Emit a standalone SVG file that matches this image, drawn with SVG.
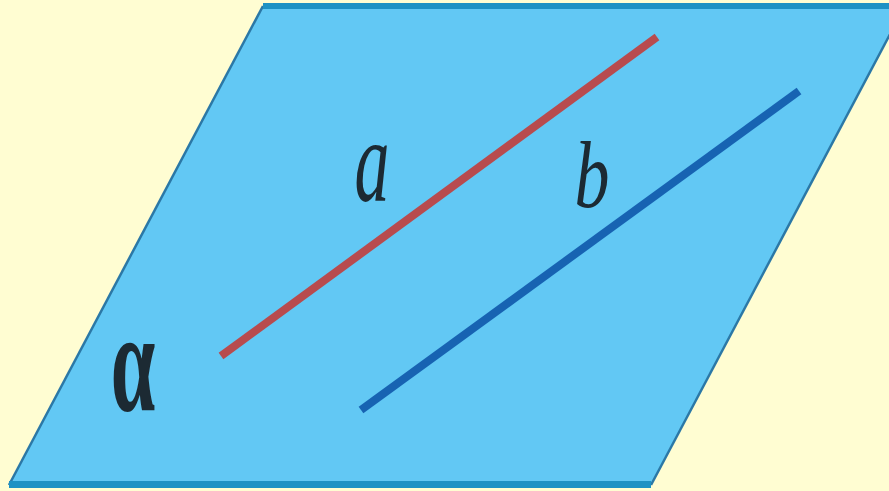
<svg xmlns="http://www.w3.org/2000/svg" width="889" height="491" viewBox="0 0 889 491">
  <style>
    .lbl { font-family: "Liberation Serif", "DejaVu Serif", serif; fill: #1c2a33; }
    .line { stroke-width: 8; stroke-linecap: butt; }
  </style>
  <rect x="0" y="0" width="889" height="491" fill="#FFFDD2"/>
  <g id="plane">
    <polygon points="263,6 905,6 651,485 9,485" fill="#62C8F4"/>
    <line x1="263" y1="6" x2="9" y2="485" stroke="#2B78A6" stroke-width="2.5"/>
    <line x1="905" y1="6" x2="651" y2="485" stroke="#2B78A6" stroke-width="2.5"/>
    <line x1="263" y1="6" x2="889" y2="6" stroke="#1E92C4" stroke-width="6"/>
    <line x1="9" y1="484.5" x2="651" y2="484.5" stroke="#1E92C4" stroke-width="7"/>
  </g>
  <g id="lines">
    <line id="line-a" class="line" x1="221" y1="356" x2="657" y2="37" stroke="#B84B4E"/>
    <line id="line-b" class="line" x1="361" y1="410" x2="799" y2="91" stroke="#1763B2"/>
  </g>
  <g id="label-a">
    <text class="lbl" font-style="italic" font-size="70" text-anchor="middle" transform="translate(372,201) scale(1,1.7)">a</text>
  </g>
  <g id="label-b">
    <text class="lbl" font-style="italic" font-size="70" text-anchor="middle" transform="translate(592,207) scale(1,1.35)">b</text>
  </g>
  <g id="label-alpha">
    <text class="lbl" font-weight="bold" font-size="80" text-anchor="middle" fill="#1a1a1a" transform="translate(133,411) scale(1,1.8)">α</text>
  </g>
</svg>
